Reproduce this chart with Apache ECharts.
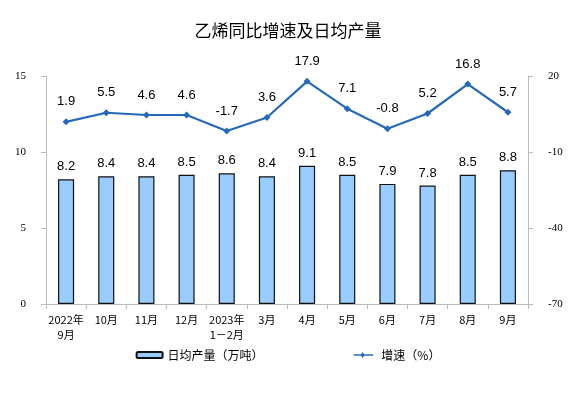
<!DOCTYPE html>
<html>
<head>
<meta charset="utf-8">
<script src="https://cdn.jsdelivr.net/npm/echarts@6/dist/echarts.min.js"></script>
<style>
  html, body { margin: 0; padding: 0; background: #fff; }
  #chart { width: 576px; height: 398px; }
</style>
</head>
<body>
<div id="chart"></div>
<script>
const months = ['2022年\n9月', '10月', '11月', '12月', '2023年\n1－2月', '3月', '4月', '5月', '6月', '7月', '8月', '9月'];
const dailyOutput = [8.2, 8.4, 8.4, 8.5, 8.6, 8.4, 9.1, 8.5, 7.9, 7.8, 8.5, 8.8];
const growth = [1.9, 5.5, 4.6, 4.6, -1.7, 3.6, 17.9, 7.1, -0.8, 5.2, 16.8, 5.7];

const chart = echarts.init(document.getElementById('chart'));
const axisFont = { fontFamily: 'Liberation Serif', fontSize: 11, color: '#000' };
const labelFont = { fontFamily: 'Liberation Sans', fontSize: 13, color: '#000' };

chart.setOption({
  animation: false,
  title: {
    text: '乙烯同比增速及日均产量',
    left: 'center',
    top: 17,
    textStyle: { fontFamily: 'Noto Sans CJK SC', fontSize: 17, fontWeight: 'normal', color: '#000' }
  },
  legend: {
    bottom: 32,
    itemGap: 90,
    itemWidth: 26,
    itemHeight: 6,
    textStyle: { fontFamily: 'Noto Sans CJK SC', fontSize: 12, color: '#000' },
    data: [
      { name: '日均产量（万吨）' },
      { name: '增速（%）', icon: 'path://M0,4 L10,4 L12,1 L14,4 L26,4 L26,6 L14,6 L12,9 L10,6 L0,6 Z' }
    ]
  },
  grid: { left: 46, right: 48, top: 76, bottom: 94 },
  xAxis: {
    type: 'category',
    data: months,
    axisLine: { lineStyle: { color: '#bbb' } },
    axisTick: { show: true, lineStyle: { color: '#bbb' } },
    axisLabel: { fontFamily: 'Noto Sans CJK SC', fontSize: 11, color: '#000', lineHeight: 15, interval: 0, margin: 8 }
  },
  yAxis: [
    {
      type: 'value', min: 0, max: 15, interval: 5,
      axisLine: { show: true, lineStyle: { color: '#bbb' } },
      axisTick: { show: true, lineStyle: { color: '#bbb' } },
      splitLine: { show: false },
      axisLabel: Object.assign({ margin: 20 }, axisFont)
    },
    {
      type: 'value', min: -70, max: 20, interval: 30,
      axisLine: { show: true, lineStyle: { color: '#bbb' } },
      axisTick: { show: true, lineStyle: { color: '#bbb' } },
      splitLine: { show: false },
      axisLabel: Object.assign({ margin: 20 }, axisFont)
    }
  ],
  series: [
    {
      name: '日均产量（万吨）',
      type: 'bar',
      data: dailyOutput,
      barWidth: '40%',
      itemStyle: { color: '#99ccff', borderColor: '#111', borderWidth: 1.2 },
      label: Object.assign({ show: true, position: 'top', distance: 6, formatter: p => p.value.toFixed(1) }, labelFont)
    },
    {
      name: '增速（%）',
      type: 'line',
      yAxisIndex: 1,
      data: growth,
      symbol: 'diamond',
      symbolSize: 7,
      lineStyle: { color: '#2569b8', width: 2.2 },
      itemStyle: { color: '#2569b8' },
      label: Object.assign({ show: true, position: 'top', distance: 10, formatter: p => p.value.toFixed(1) }, labelFont)
    }
  ]
});
</script>
</body>
</html>
